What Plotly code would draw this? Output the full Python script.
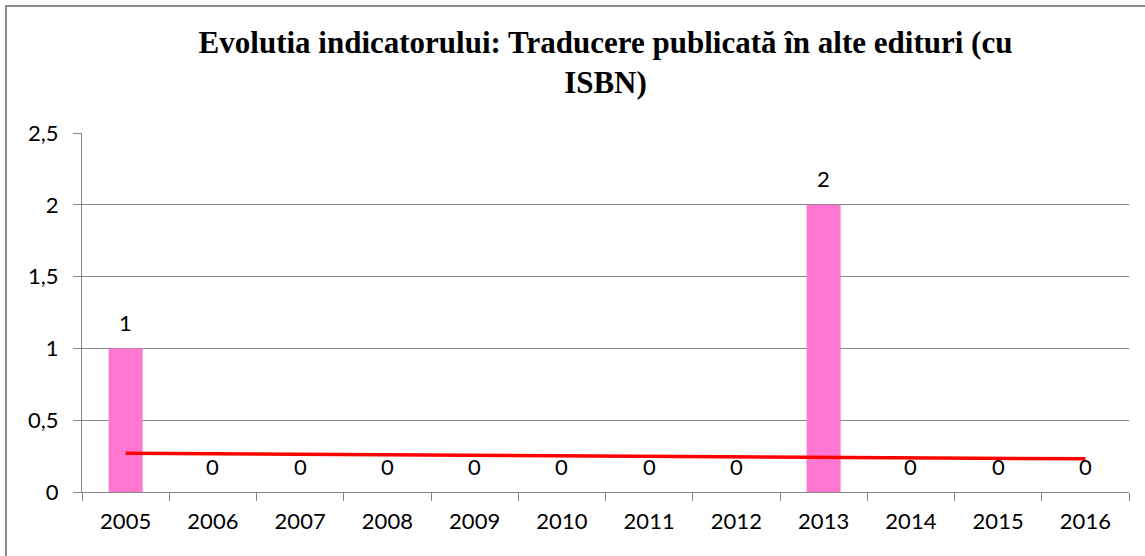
import numpy as np
import plotly.graph_objects as go

years = ["2005", "2006", "2007", "2008", "2009", "2010", "2011", "2012", "2013", "2014", "2015", "2016"]
values = [1, 0, 0, 0, 0, 0, 0, 0, 2, 0, 0, 0]
y_ticks = [0, 0.5, 1, 1.5, 2, 2.5]
title_text = "Evolutia indicatorului: Traducere publicată în alte edituri (cu<br>ISBN)"

# linear trendline (as Excel would compute)
xi = np.arange(1, len(values) + 1)
slope, intercept = np.polyfit(xi, values, 1)
trend = slope * xi + intercept

W, H = 1145, 556
ml, mr, mt, mb = 82, 16, 133, 64
FONT = "Lato, Noto Sans, sans-serif"

fig = go.Figure()
fig.add_trace(go.Bar(x=years, y=values, marker=dict(color="#FF77D0", line=dict(width=0)),
                     hoverinfo="x+y"))
fig.add_trace(go.Scatter(x=years, y=trend, mode="lines",
                         line=dict(color="#FF0000", width=3.5)))

for i, v in enumerate(values):
    fig.add_annotation(x=i, y=v, xref="x", yref="y", text=str(v), showarrow=False, yshift=26,
                       font=dict(family=FONT, size=22, color="#000000"))

pw = W - ml - mr
ph = H - mt - mb
fig.add_shape(type="rect", xref="paper", yref="paper",
              x0=(6 - ml) / pw, x1=(W + 20 - ml) / pw,
              y0=(H - mb - (H + 20)) / ph, y1=(H - mb - 6) / ph,
              line=dict(color="#8C8C8C", width=2), fillcolor="rgba(0,0,0,0)", layer="above")

fig.update_layout(
    width=W, height=H,
    margin=dict(l=ml, r=mr, t=mt, b=mb),
    paper_bgcolor="white", plot_bgcolor="white",
    showlegend=False,
    separators=", ",
    bargap=0.61,
    title=dict(text=title_text, x=0.5, xref="paper", xanchor="center",
               y=1 - 53 / H, yanchor="top",
               font=dict(family="Liberation Serif, Times New Roman, serif", size=31, color="#000000",
                         weight="bold")),
    xaxis=dict(type="category", range=[-0.5, len(years) - 0.5], autorange=False,
               showgrid=False, showline=True, linecolor="#868686", linewidth=1,
               ticks="outside", tickson="boundaries", ticklen=8, tickcolor="#868686",
               tickangle=0, ticklabelstandoff=10,
               tickfont=dict(family=FONT, size=22, color="#000000"),
               fixedrange=True),
    yaxis=dict(range=[0, 2.5], tickvals=y_ticks, showgrid=True, gridcolor="#888888", gridwidth=1,
               showline=True, linecolor="#868686", linewidth=1,
               ticks="outside", ticklen=8, tickcolor="#868686", zeroline=False,
               ticklabelstandoff=10,
               tickfont=dict(family=FONT, size=22, color="#000000"),
               fixedrange=True),
)

fig.write_html("out.html", config={"displayModeBar": False},
               post_script="document.body.style.margin='0';document.body.style.overflow='hidden';")
